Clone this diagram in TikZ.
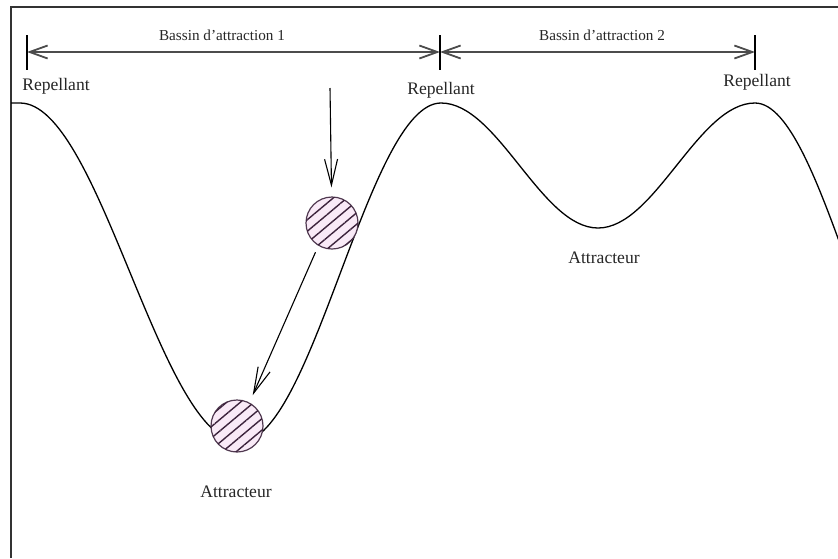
\documentclass[tikz,border=0pt]{standalone}
\usepackage{fontspec}
\setmainfont{Liberation Serif}
\usetikzlibrary{arrows.meta,patterns.meta}
\definecolor{rosepale}{RGB}{249,234,247}
\definecolor{hachure}{RGB}{60,35,60}
\begin{document}
\begin{tikzpicture}[x=0.5pt,y=-0.5pt,
	bille/.style={circle, draw=hachure!90, line width=0.6pt, fill=rosepale, minimum size=26pt, inner sep=0pt,
		postaction={pattern={Lines[angle=40,distance=4.4pt,line width=0.7pt]}, pattern color=hachure}},
	fleche/.style={-{Straight Barb[length=13pt,width=6.5pt]}, line width=0.55pt},
	cote/.style={{Straight Barb[length=9pt,width=6.5pt]}-{Straight Barb[length=9pt,width=6.5pt]}, line width=0.9pt, black!70},
	etiq/.style={text=black!85, font=\fontsize{8.8}{10}\selectfont, inner sep=0pt},
	petit/.style={text=black!85, font=\fontsize{7.6}{9}\selectfont, inner sep=0pt}]
	\useasboundingbox (0,0) rectangle (838,558);
	\clip (0,0) rectangle (838,558);
	%cadre
	\draw [line width=1pt, black!80] (11,558) -- (11,7) -- (838,7);
	%fin
	%cotes des bassins
	\coordinate (g) at (27,52);
	\coordinate (m) at (440,52);
	\coordinate (d) at (755,52);
	\draw [cote] (g) -- (m);
	\draw [cote] (m) -- (d);
	\draw [line width=0.8pt] ([yshift=8.5pt]g) -- ([yshift=-9pt]g);
	\draw [line width=1.4pt] ([yshift=8.5pt]m) -- ([yshift=-9pt]m);
	\draw [line width=0.8pt] ([yshift=8.5pt]d) -- ([yshift=-9pt]d);
	\node [petit] (bassin1) at (222,35) {Bassin d'attraction 1};
	\node [petit] (bassin2) at (602,35) {Bassin d'attraction 2};
	%fin
	%le potentiel
	\draw [line width=0.65pt] (11,103) -- (20,103)
		.. controls (100,103) and (160,442) .. (240,442)
		.. controls (313,442) and (368,103) .. (441,103)
		.. controls (498,103) and (541,228) .. (598,228)
		.. controls (655,228) and (698,103) .. (755,103)
		.. controls (824,103) and (876,440) .. (945,440);
	%fin
	%etiquettes
	\node [etiq] (rep1) at (56,86) {Repellant};
	\node [etiq] (rep2) at (441,90) {Repellant};
	\node [etiq] (rep3) at (757,82) {Repellant};
	\node [etiq] (attr1) at (236,492) {Attracteur};
	\node [etiq] (attr2) at (604,258) {Attracteur};
	%les billes
	\node [bille] (b1) at (332,223) {};
	\node [bille] (b2) at (237,426) {};
	\coordinate (lacher) at (330,88);
	\draw [fleche, shorten >=4.5pt] (lacher) -- (b1);
	\draw [fleche, shorten <=3.5pt, shorten >=4pt] (b1.239) -- (b2.62);
\end{tikzpicture}
\end{document}
